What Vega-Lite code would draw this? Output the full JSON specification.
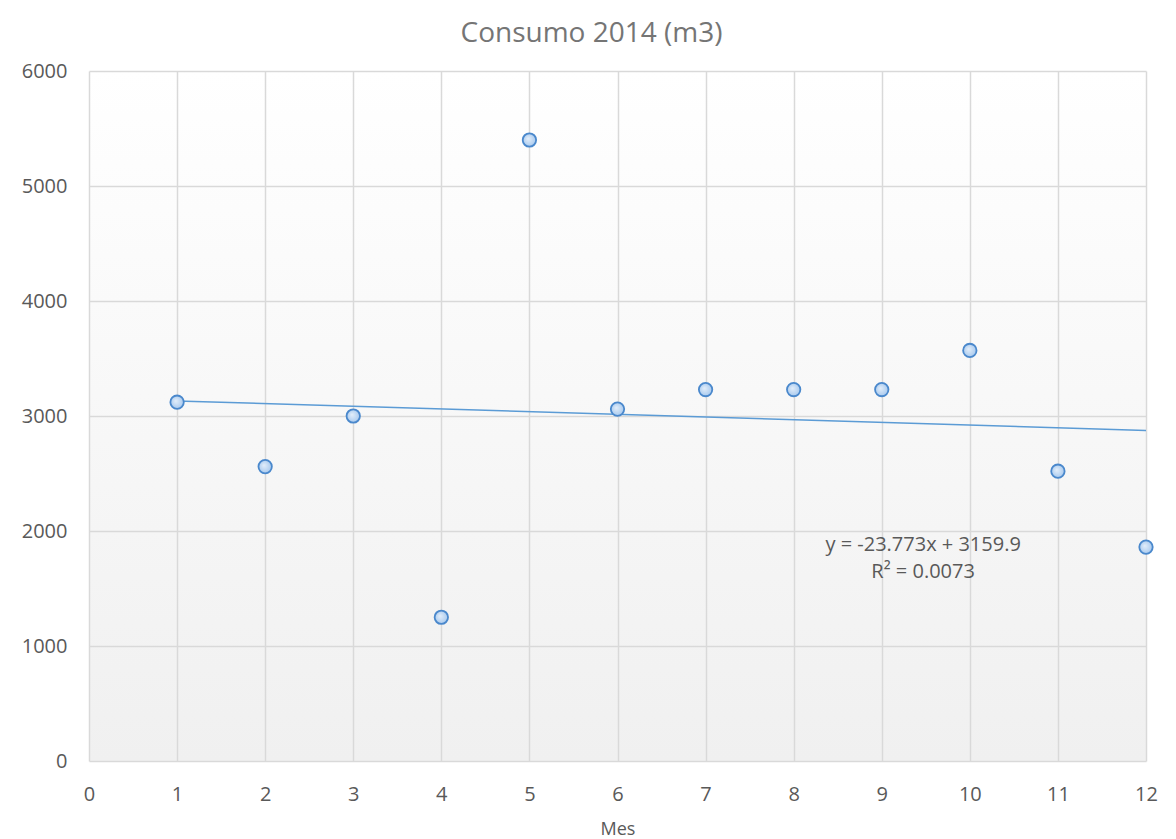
{
  "$schema": "https://vega.github.io/schema/vega-lite/v6.json",
  "width": 1057,
  "height": 690,
  "autosize": {"type": "none"},
  "padding": {"left": 89, "top": 71, "right": 30, "bottom": 78},
  "background": "white",
  "title": {
    "text": "Consumo 2014 (m3)",
    "font": "Open Sans",
    "fontSize": 28,
    "fontWeight": "normal",
    "color": "#757575",
    "anchor": "middle",
    "dx": -26,
    "offset": 13
  },
  "config": {
    "view": {
      "stroke": null,
      "fill": {
        "gradient": "linear",
        "x1": 0, "y1": 0, "x2": 0, "y2": 1,
        "stops": [
          {"offset": 0, "color": "#ffffff"},
          {"offset": 1, "color": "#f0f0f0"}
        ]
      }
    },
    "axis": {
      "labelFont": "Open Sans",
      "titleFont": "Open Sans",
      "labelColor": "#595959",
      "titleColor": "#595959",
      "labelFontSize": 20,
      "titleFontSize": 18,
      "titleFontWeight": "normal",
      "gridColor": "#d9d9d9",
      "gridWidth": 1.5,
      "gridOpacity": 1,
      "domain": false,
      "ticks": false,
      "labelFlush": false,
      "labelOverlap": false
    }
  },
  "data": {
    "values": [
      {"Mes": 1, "Consumo": 3120},
      {"Mes": 2, "Consumo": 2560},
      {"Mes": 3, "Consumo": 3000},
      {"Mes": 4, "Consumo": 1250},
      {"Mes": 5, "Consumo": 5400},
      {"Mes": 6, "Consumo": 3060},
      {"Mes": 7, "Consumo": 3230},
      {"Mes": 8, "Consumo": 3230},
      {"Mes": 9, "Consumo": 3230},
      {"Mes": 10, "Consumo": 3570},
      {"Mes": 11, "Consumo": 2520},
      {"Mes": 12, "Consumo": 1860}
    ]
  },
  "encoding": {
    "x": {
      "field": "Mes",
      "type": "quantitative",
      "scale": {"domain": [0, 12], "nice": false, "zero": false},
      "axis": {"values": [0,1,2,3,4,5,6,7,8,9,10,11,12], "labelPadding": 23, "title": "Mes", "titlePadding": 16}
    },
    "y": {
      "field": "Consumo",
      "type": "quantitative",
      "scale": {"domain": [0, 6000], "nice": false},
      "axis": {"values": [0,1000,2000,3000,4000,5000,6000], "format": "d", "labelPadding": 22, "title": null}
    }
  },
  "layer": [
    {
      "transform": [{"regression": "Consumo", "on": "Mes", "method": "linear"}],
      "mark": {"type": "line", "color": "#5b9bd5", "strokeWidth": 1.5, "clip": true}
    },
    {
      "mark": {
        "type": "point",
        "filled": true,
        "size": 180,
        "fill": {
          "gradient": "radial",
          "x1": 0.4, "y1": 0.4, "r1": 0, "x2": 0.5, "y2": 0.5, "r2": 0.6,
          "stops": [
            {"offset": 0, "color": "#e3eefa"},
            {"offset": 1, "color": "#9ec3ec"}
          ]
        },
        "stroke": "#4a88cc",
        "strokeWidth": 1.8,
        "opacity": 1
      }
    },
    {
      "data": {
        "values": [
          {"Mes": 9.47, "Consumo": 1878, "label": "y = -23.773x + 3159.9"},
          {"Mes": 9.47, "Consumo": 1643, "label": "R² = 0.0073"}
        ]
      },
      "mark": {"type": "text", "font": "Open Sans", "fontSize": 20, "color": "#595959", "align": "center", "baseline": "middle"},
      "encoding": {"text": {"field": "label"}}
    }
  ]
}
